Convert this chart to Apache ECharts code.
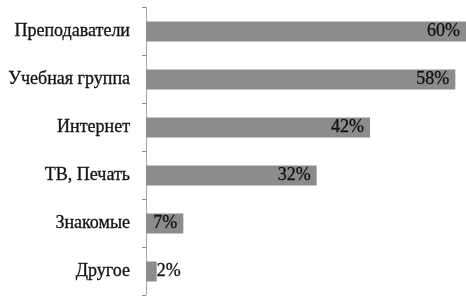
<!DOCTYPE html>
<html>
<head>
<meta charset="utf-8">
<script src="https://cdn.jsdelivr.net/npm/echarts@6/dist/echarts.min.js"></script>
<style>
  html, body { margin: 0; padding: 0; background: #fff; }
  #chart { width: 466px; height: 297px; }
</style>
</head>
<body>
<div id="chart"></div>
<script>
// sources of information, share of respondents (%)
var categories = ['Преподаватели', 'Учебная группа', 'Интернет', 'ТВ, Печать', 'Знакомые', 'Другое'];
var values = [60, 58, 42, 32, 7, 2];

var serif = 'Liberation Serif';

var chart = echarts.init(document.getElementById('chart'), null, { renderer: 'canvas' });

var seriesData = values.map(function (v) {
    var item = { value: v };
    if (v < 5) {
        // too small to hold its label, put it just after the bar
        item.label = { position: 'right', distance: 0 };
    }
    return item;
});

option = {
    animation: false,
    backgroundColor: '#fff',
    textStyle: { fontFamily: serif },
    grid: { left: 146, right: -3, top: 7.5, bottom: 1.5, containLabel: false },
    xAxis: {
        type: 'value',
        min: 0,
        max: 60,
        show: false
    },
    yAxis: {
        type: 'category',
        data: categories,
        inverse: true,
        axisLine: { show: true, lineStyle: { color: '#9a9a9a', type: 'dotted', width: 1 } },
        axisTick: { show: true, length: 4, lineStyle: { color: '#8a8a8a' } },
        axisLabel: {
            margin: 16,
            fontFamily: serif,
            fontSize: 18,
            color: '#111',
            textBorderColor: '#111',
            textBorderWidth: 0.3
        }
    },
    series: [{
        type: 'bar',
        data: seriesData,
        barWidth: 20,
        itemStyle: { color: '#8c8c8c' },
        label: {
            show: true,
            position: 'insideRight',
            distance: 6,
            formatter: '{c}%',
            fontFamily: serif,
            fontSize: 18,
            color: '#111',
            textBorderColor: '#111',
            textBorderWidth: 0.3
        }
    }]
};

chart.setOption(option);
</script>
</body>
</html>
